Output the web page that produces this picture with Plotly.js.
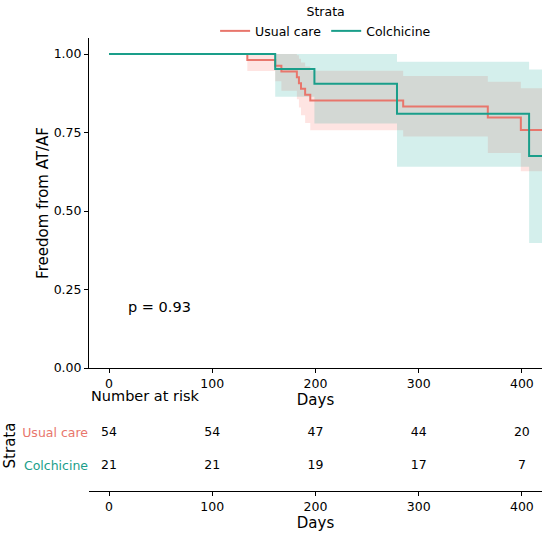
<!DOCTYPE html>
<html><head><meta charset="utf-8">
<script src="https://cdn.plot.ly/plotly-3.0.1.min.js"></script>
<style>html,body{margin:0;padding:0;background:#fff}</style>
</head><body><div id="chart" style="width:550px;height:536px"></div>
<script>
const strata = ['Usual care', 'Colchicine'];
const ucTime  = [0, 134, 161, 167, 182, 184, 186, 190, 195, 285, 367, 399, 420];
const ucSurv  = [1, 0.981, 0.963, 0.944, 0.926, 0.907, 0.889, 0.870, 0.852, 0.833, 0.798, 0.758, 0.758];
const ucLower = [1, 0.946, 0.913, 0.883, 0.856, 0.830, 0.805, 0.780, 0.757, 0.737, 0.685, 0.627, 0.627];
const ucUpper = [1, 1, 1, 1, 0.996, 0.985, 0.973, 0.960, 0.947, 0.930, 0.912, 0.891, 0.891];
const coTime  = [0, 161, 199, 279, 407, 420];
const coSurv  = [1, 0.952, 0.905, 0.810, 0.675, 0.675];
const coLower = [1, 0.864, 0.779, 0.641, 0.398, 0.398];
const coUpper = [1, 1, 1, 0.975, 0.951, 0.951];
const riskTimes = [0, 100, 200, 300, 400];
const ucRisk = [54, 54, 47, 44, 20];
const coRisk = [21, 21, 19, 17, 7];
const pValueText = 'p = 0.93';

const ucColor = '#E8766C', coColor = '#1A9E8A';
const ucFill = 'rgba(248,118,109,0.2)', coFill = 'rgba(0,160,140,0.17)';

function band(t, lo, hi, fill) {
  return [
    {x: t, y: hi, type: 'scatter', mode: 'lines', line: {width: 0, shape: 'hv'}, showlegend: false, hoverinfo: 'skip', xaxis: 'x', yaxis: 'y'},
    {x: t, y: lo, type: 'scatter', mode: 'lines', line: {width: 0, shape: 'hv'}, fill: 'tonexty', fillcolor: fill, showlegend: false, hoverinfo: 'skip', xaxis: 'x', yaxis: 'y'}
  ];
}

const data = [].concat(
  band(ucTime, ucLower, ucUpper, ucFill),
  band(coTime, coLower, coUpper, coFill),
  [
    {x: ucTime, y: ucSurv, type: 'scatter', mode: 'lines', name: strata[0], line: {color: ucColor, width: 2, shape: 'hv'}, xaxis: 'x', yaxis: 'y'},
    {x: coTime, y: coSurv, type: 'scatter', mode: 'lines', name: strata[1], line: {color: coColor, width: 2, shape: 'hv'}, xaxis: 'x', yaxis: 'y'},
    {x: riskTimes, y: riskTimes.map(() => 1), text: ucRisk.map(String), type: 'scatter', mode: 'text', textfont: {size: 12.5, color: '#000'}, showlegend: false, hoverinfo: 'skip', xaxis: 'x2', yaxis: 'y2'},
    {x: riskTimes, y: riskTimes.map(() => 0), text: coRisk.map(String), type: 'scatter', mode: 'text', textfont: {size: 12.5, color: '#000'}, showlegend: false, hoverinfo: 'skip', xaxis: 'x2', yaxis: 'y2'}
  ]
);

const xDom = [89/550, 542/550];
const axCommon = {showgrid: false, zeroline: false, showline: true, linecolor: '#000', linewidth: 1, ticks: 'outside', ticklen: 4, tickwidth: 1, tickcolor: '#000', tickfont: {size: 12.5, color: '#000'}};

const layout = {
  width: 550, height: 536,
  margin: {l: 0, r: 0, t: 0, b: 0},
  paper_bgcolor: '#fff', plot_bgcolor: '#fff',
  font: {family: 'DejaVu Sans, sans-serif', size: 12.5, color: '#000'},
  showlegend: true,
  legend: {orientation: 'h', traceorder: 'normal', itemwidth: 30, x: 0.592, xanchor: 'center', y: 1.0, yanchor: 'top',
           title: {text: 'Strata', side: 'top center', font: {size: 12.5}}, font: {size: 12.5}, bgcolor: 'rgba(0,0,0,0)'},
  xaxis: Object.assign({}, axCommon, {domain: xDom, range: [-19.4, 419.5], tickvals: riskTimes, anchor: 'y',
           title: {text: 'Days', font: {size: 15}, standoff: 2}}),
  yaxis: Object.assign({}, axCommon, {domain: [1 - 368/536, 1 - 38/536], range: [0, 1.051], tickvals: [0, 0.25, 0.5, 0.75, 1], tickformat: '.2f', anchor: 'x',
           title: {text: 'Freedom from AT/AF', font: {size: 15}, standoff: 1}}),
  xaxis2: Object.assign({}, axCommon, {domain: xDom, range: [-19.4, 419.5], tickvals: riskTimes, anchor: 'y2',
           title: {text: 'Days', font: {size: 15}, standoff: 1}}),
  yaxis2: {domain: [1 - 491/536, 1 - 400/536], range: [-0.758, 2.0], anchor: 'x2', showgrid: false, zeroline: false, showline: false, ticks: '',
           tickvals: [1, 0],
           ticktext: ['<span style="color:' + ucColor + '">' + strata[0] + '</span>', '<span style="color:' + coColor + '">' + strata[1] + '</span>'],
           tickfont: {size: 12.5},
           title: {text: 'Strata', font: {size: 15}, standoff: 2}},
  annotations: [
    {text: pValueText, x: 16, y: 0.194, xref: 'x', yref: 'y', xanchor: 'left', yanchor: 'middle', showarrow: false, font: {size: 14.5}},
    {text: 'Number at risk', x: 89/550, y: 1 - 396/536, xref: 'paper', yref: 'paper', xanchor: 'left', yanchor: 'middle', showarrow: false, font: {size: 14.5}}
  ]
};

Plotly.newPlot('chart', data, layout, {displayModeBar: false, staticPlot: true});
</script></body></html>
